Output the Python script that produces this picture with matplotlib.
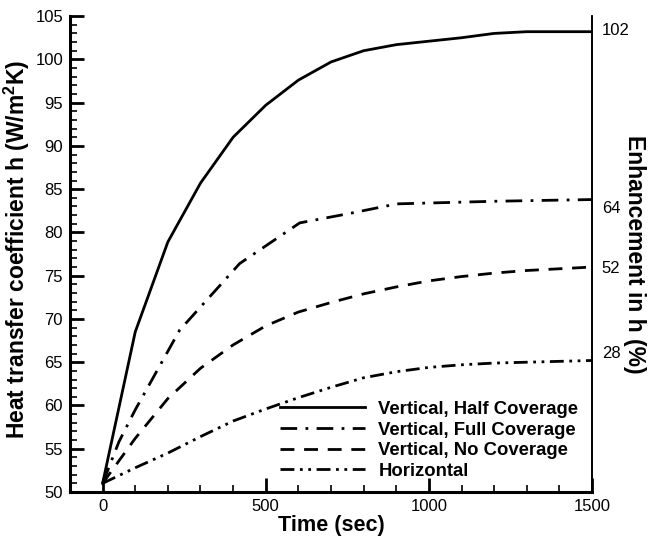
import matplotlib
matplotlib.use("Agg")
import matplotlib.pyplot as plt
from matplotlib.ticker import MultipleLocator

plt.rcParams["font.family"] = ["Liberation Sans", "DejaVu Sans"]
plt.rcParams["mathtext.fontset"] = "custom"
plt.rcParams["mathtext.rm"] = "Liberation Sans"
plt.rcParams["mathtext.bf"] = "Liberation Sans:bold"

########  data  ########

t_half = [0, 100, 200, 300, 400, 500, 600, 700, 800, 900, 1000, 1100, 1200, 1300, 1400, 1500]
h_half = [51.0, 68.5, 78.9, 85.7, 91.0, 94.7, 97.6, 99.7, 101.0, 101.7, 102.1, 102.5, 103.0, 103.2, 103.2, 103.2]

t_full = [0, 50, 100, 236, 420, 604, 758, 902, 1200, 1500]
h_full = [51.0, 55.8, 59.5, 68.7, 76.4, 81.1, 82.2, 83.3, 83.6, 83.8]

t_none = [0, 100, 200, 300, 400, 500, 600, 700, 800, 900, 1000, 1100, 1200, 1300, 1400, 1500]
h_none = [51.0, 56.2, 60.8, 64.3, 67.0, 69.2, 70.8, 71.9, 72.9, 73.7, 74.4, 74.9, 75.3, 75.6, 75.8, 76.0]

t_horiz = [0, 100, 200, 300, 400, 500, 600, 700, 800, 900, 1000, 1100, 1200, 1300, 1400, 1500]
h_horiz = [51.0, 52.8, 54.5, 56.4, 58.2, 59.6, 60.9, 62.1, 63.2, 63.9, 64.4, 64.7, 64.9, 65.0, 65.1, 65.2]

labels = ["Vertical, Half Coverage", "Vertical, Full Coverage",
          "Vertical, No Coverage", "Horizontal"]

# enhancement labels on the right side, placed at h values
enh_pos = [103.5, 82.9, 76.0, 66.2]
enh_labels = ["102", "64", "52", "28"]

########  plot  ########

fig = plt.figure(figsize=(6.48, 5.37), dpi=100)
ax = fig.add_axes([0.108, 0.0838, 0.8056, 0.8862])

ax.plot(t_half, h_half, color="black", lw=2.0, linestyle="-", label=labels[0])
ax.plot(t_full, h_full, color="black", lw=2.0, linestyle=(0, (6, 3, 1, 3)), label=labels[1])
ax.plot(t_none, h_none, color="black", lw=2.0, linestyle=(0, (5, 3.5)), label=labels[2])
ax.plot(t_horiz, h_horiz, color="black", lw=2.0, linestyle=(0, (5, 2, 1, 2, 1, 2)), label=labels[3])

ax.set_xlim(-100, 1500)
ax.set_ylim(50, 105)
ax.xaxis.set_major_locator(MultipleLocator(500))
ax.xaxis.set_minor_locator(MultipleLocator(100))
ax.yaxis.set_major_locator(MultipleLocator(5))
ax.yaxis.set_minor_locator(MultipleLocator(1))

ax.spines["top"].set_visible(False)
ax.spines["left"].set_linewidth(2.2)
ax.spines["bottom"].set_linewidth(2.2)
ax.spines["right"].set_linewidth(1.2)

ax.tick_params(which="major", direction="in", length=10, width=2.0, labelsize=12, pad=5)
ax.tick_params(which="minor", direction="in", length=5, width=1.2)
ax.tick_params(axis="y", which="both", right=False)
ax.tick_params(axis="x", which="both", top=False)

ax.set_xlabel("Time (sec)", fontsize=15.6, fontweight="bold", labelpad=1)
ax.set_ylabel(r"Heat transfer coefficient h (W/m$\mathbf{^2}$K)", fontsize=16.5,
              fontweight="bold")
ax.yaxis.set_label_coords(-0.073, 0.51)

ax2 = ax.twinx()
ax2.set_ylim(50, 105)
ax2.set_yticks(enh_pos, enh_labels)
ax2.tick_params(axis="y", length=0, labelsize=12, pad=7)
for s in ["top", "left", "bottom"]:
    ax2.spines[s].set_visible(False)
ax2.spines["right"].set_linewidth(1.2)
ax2.set_ylabel("Enhancement in h (%)", fontsize=16.5, fontweight="bold",
               rotation=270, labelpad=11.5)

leg = ax.legend(loc="lower right", bbox_to_anchor=(0.995, 0.002), frameon=False,
                fontsize=13.3, handlelength=4.6, handletextpad=0.7, labelspacing=0.2,
                borderaxespad=0.2)
for txt in leg.get_texts():
    txt.set_fontweight("bold")

plt.savefig("out.png", dpi=100)
plt.close()
